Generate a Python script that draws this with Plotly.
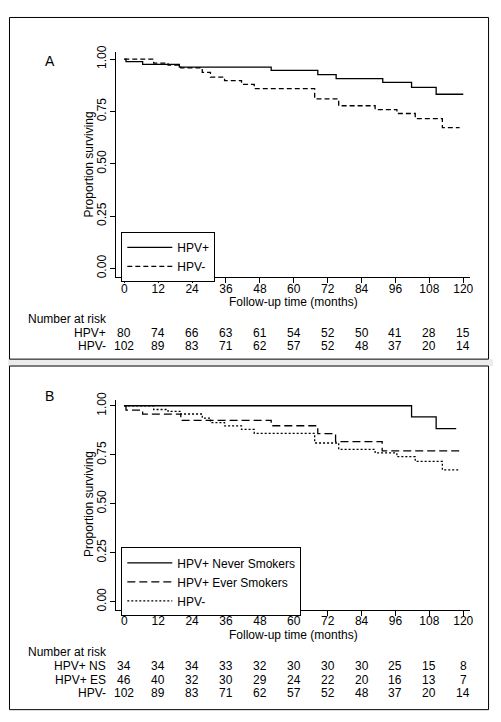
import plotly.graph_objects as go

# The page body has an 8px default margin; the figure is sized so that
# screen pixel p maps to figure pixel p - OFF.
OFF = 8
W, H = 501 - OFF, 722 - OFF
FONT = "Arial, Liberation Sans, sans-serif"

# ---------------- data ----------------
month_ticks = [0, 12, 24, 36, 48, 60, 72, 84, 96, 108, 120]
surv_ticks = [0, 0.25, 0.5, 0.75, 1.0]
surv_ticktext = ["0.00", "0.25", "0.50", "0.75", "1.00"]

# Panel A
a_pos_t = [0, 0.6, 6.5, 19.5, 52, 68.5, 75, 91.5, 101.7, 110.4, 120]
a_pos_s = [1.0, 0.988, 0.975, 0.962, 0.946, 0.926, 0.907, 0.889, 0.865, 0.832, 0.832]

a_neg_t = [0, 10.4, 15.5, 20, 27.6, 30.5, 35.5, 41.5, 46, 67.4, 75.9, 88.8, 96.5, 103, 112.6, 118.7]
a_neg_s = [1.0, 0.981, 0.971, 0.958, 0.937, 0.914, 0.897, 0.879, 0.859, 0.81, 0.777, 0.759, 0.74, 0.716, 0.673, 0.673]

# Panel B
b_ns_t = [0, 101.7, 110.4, 117.5]
b_ns_s = [1.0, 0.943, 0.883, 0.883]

b_es_t = [0, 0.6, 6.5, 20, 52, 68.5, 74.8, 91.3, 119.6]
b_es_s = [1.0, 0.978, 0.957, 0.925, 0.898, 0.858, 0.817, 0.77, 0.77]

b_neg_t = [0, 10.4, 15.5, 20, 27.6, 30.5, 35.5, 41.5, 46, 67.4, 75.9, 88.8, 96.5, 103, 112.6, 118.5]
b_neg_s = [1.0, 0.981, 0.971, 0.958, 0.937, 0.914, 0.897, 0.879, 0.859, 0.81, 0.777, 0.759, 0.74, 0.716, 0.673, 0.673]

# Number at risk
risk_a_labels = ["HPV+", "HPV-"]
risk_a = [
    [80, 74, 66, 63, 61, 54, 52, 50, 41, 28, 15],
    [102, 89, 83, 71, 62, 57, 52, 48, 37, 20, 14],
]
risk_b_labels = ["HPV+ NS", "HPV+ ES", "HPV-"]
risk_b = [
    [34, 34, 34, 33, 32, 30, 30, 30, 25, 15, 8],
    [46, 40, 32, 30, 29, 24, 22, 20, 16, 13, 7],
    [102, 89, 83, 71, 62, 57, 52, 48, 37, 20, 14],
]

# ---------------- helpers (screen px -> paper) ----------------
def px_x(p):
    return (p - OFF) / W

def px_y(p):
    return 1 - (p - OFF) / H

TXT = dict(family=FONT, size=12, color="black")

fig = go.Figure()

LW = 1.3
fig.add_trace(go.Scatter(x=a_pos_t, y=a_pos_s, mode="lines", line_shape="hv", name="HPV+",
                         line=dict(color="black", width=LW), xaxis="x", yaxis="y", legend="legend"))
fig.add_trace(go.Scatter(x=a_neg_t, y=a_neg_s, mode="lines", line_shape="hv", name="HPV-",
                         line=dict(color="black", width=LW, dash="5px,3px"), xaxis="x", yaxis="y", legend="legend"))

fig.add_trace(go.Scatter(x=b_ns_t, y=b_ns_s, mode="lines", line_shape="hv", name="HPV+ Never Smokers",
                         line=dict(color="black", width=LW), xaxis="x2", yaxis="y2", legend="legend2"))
fig.add_trace(go.Scatter(x=b_es_t, y=b_es_s, mode="lines", line_shape="hv", name="HPV+ Ever Smokers",
                         line=dict(color="black", width=LW, dash="8px,4px"), xaxis="x2", yaxis="y2", legend="legend2"))
fig.add_trace(go.Scatter(x=b_neg_t, y=b_neg_s, mode="lines", line_shape="hv", name="HPV-",
                         line=dict(color="black", width=LW, dash="2px,2px"), xaxis="x2", yaxis="y2", legend="legend2"))

xdom = [px_x(117), px_x(473.3)]
xrange = [-2.815, 122.55]

xaxis_common = dict(
    domain=xdom, range=xrange, tickvals=month_ticks, showline=True, linecolor="black", linewidth=1,
    ticks="outside", ticklen=5, tickcolor="black", showgrid=False, zeroline=False,
    tickfont=TXT, ticklabelstandoff=-5,
)
yaxis_common = dict(
    tickvals=surv_ticks, ticktext=surv_ticktext, tickangle=-90, showline=True, linecolor="black",
    linewidth=1, ticks="outside", ticklen=5, tickcolor="black", showgrid=False, zeroline=False,
    tickfont=TXT,
)

fig.update_layout(
    width=W, height=H, margin=dict(l=0, r=0, t=0, b=0),
    paper_bgcolor="white", plot_bgcolor="white",
    font=TXT,
    xaxis=dict(**xaxis_common, anchor="y"),
    yaxis=dict(**yaxis_common, domain=[px_y(273), px_y(45)], range=[-0.0424, 1.0316], anchor="x"),
    xaxis2=dict(**xaxis_common, anchor="y2"),
    yaxis2=dict(**yaxis_common, domain=[px_y(610), px_y(397)], range=[-0.0403, 1.0317], anchor="x2"),
    legend=dict(x=px_x(122), y=px_y(227), xanchor="left", yanchor="top", bordercolor="black",
                borderwidth=1, bgcolor="white", font=TXT, tracegroupgap=0, itemwidth=45),
    legend2=dict(x=px_x(122), y=px_y(547), xanchor="left", yanchor="top", bordercolor="black",
                 borderwidth=1, bgcolor="white", font=TXT, tracegroupgap=0, itemwidth=45),
    showlegend=True,
)

shapes = [
    dict(type="rect", xref="paper", yref="paper", x0=px_x(0), x1=px_x(501), y0=px_y(363), y1=px_y(356),
         fillcolor="#ececec", line=dict(width=0), layer="below"),
    dict(type="rect", xref="paper", yref="paper", x0=px_x(9.5), x1=px_x(491.5), y0=px_y(356), y1=px_y(9.5),
         line=dict(color="black", width=1), fillcolor="rgba(0,0,0,0)"),
    dict(type="rect", xref="paper", yref="paper", x0=px_x(9.5), x1=px_x(491.5), y0=px_y(711.5), y1=px_y(363),
         line=dict(color="black", width=1), fillcolor="rgba(0,0,0,0)"),
]

ann = []
ann.append(dict(text="A", x=px_x(43), y=px_y(43), xref="paper", yref="paper", showarrow=False,
                font=dict(family=FONT, size=14, color="black")))
ann.append(dict(text="B", x=px_x(43), y=px_y(393), xref="paper", yref="paper", showarrow=False,
                font=dict(family=FONT, size=14, color="black")))

# axis titles
for ty, ycen in [(298, 159), (636, 503.5)]:
    ann.append(dict(text="Follow-up time (months)", x=px_x(295.5), y=px_y(ty), xref="paper", yref="paper",
                    xanchor="center", yanchor="middle", showarrow=False, font=TXT))
    ann.append(dict(text="Proportion surviving", x=px_x(89), y=px_y(ycen), xref="paper", yref="paper",
                    xanchor="center", yanchor="middle", textangle=-90, showarrow=False, font=TXT))

def risk_table(xref, title_y, row_ys, labels, rows):
    out = [dict(text="Number at risk", x=px_x(26), y=px_y(title_y), xref="paper", yref="paper",
                xanchor="left", yanchor="middle", showarrow=False, font=TXT)]
    for ry, lab, vals in zip(row_ys, labels, rows):
        out.append(dict(text=lab, x=px_x(108.5), y=px_y(ry), xref="paper", yref="paper",
                        xanchor="right", yanchor="middle", showarrow=False, font=TXT))
        for t, v in zip(month_ticks, vals):
            out.append(dict(text=str(v), x=t, y=px_y(ry), xref=xref, yref="paper",
                            xanchor="center", yanchor="middle", showarrow=False, font=TXT))
    return out

ann += risk_table("x", 315, [329, 343], risk_a_labels, risk_a)
ann += risk_table("x2", 653, [667, 681, 694.5], risk_b_labels, risk_b)

fig.update_layout(shapes=shapes, annotations=ann)
fig.write_html("out.html")
